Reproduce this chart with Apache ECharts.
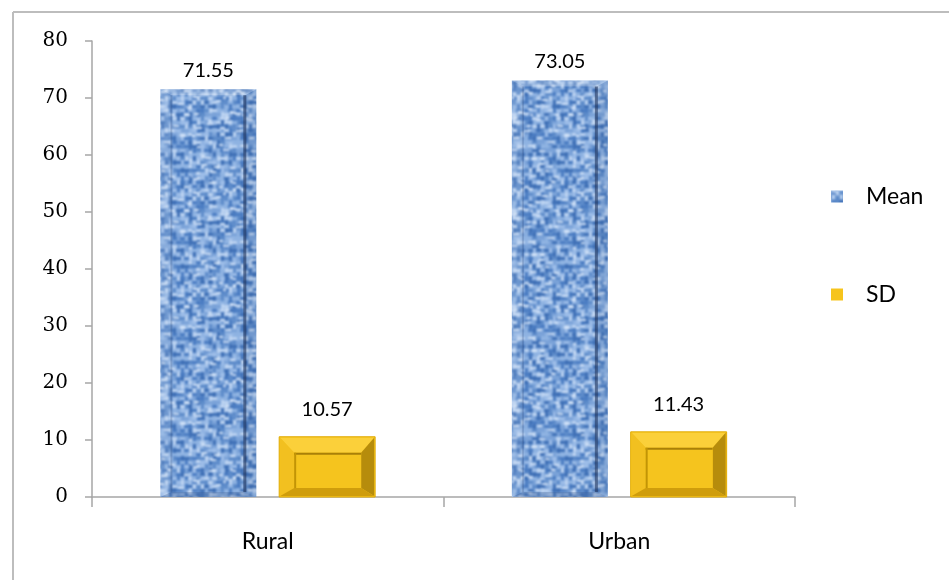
<!DOCTYPE html>
<html>
<head>
<meta charset="utf-8">
<title>Mean and SD by locality</title>
<script src="https://cdn.jsdelivr.net/npm/echarts@6/dist/echarts.min.js"></script>
<style>
  html, body { margin: 0; padding: 0; background: #fff; }
  #chart { width: 949px; height: 580px; }
</style>
</head>
<body>
<div id="chart"></div>
<script>
// Category names and series values
const categories = ['Rural', 'Urban'];
const meanValues = [71.55, 73.05];
const sdValues = [10.57, 11.43];
const seriesNames = ['Mean', 'SD'];
const yTicks = { min: 0, max: 80, interval: 10 };

// Deterministic hash used to build the woven fabric texture
function hash(x, y) {
  let h = (x * 374761393 + y * 668265263) | 0;
  h = Math.imul(h ^ (h >>> 13), 1274126177);
  h = h ^ (h >>> 16);
  return (h >>> 0) / 4294967295;
}

// Blue woven-fabric texture for the Mean bars
function makeFabric() {
  const size = 96;
  const raw = document.createElement('canvas');
  raw.width = size; raw.height = size;
  const g = raw.getContext('2d');
  g.fillStyle = '#7fa6da';
  g.fillRect(0, 0, size, size);
  const shades = ['#4a7cc2', '#5e8cca', '#7aa2d8', '#9dbde8', '#bcd3f1', '#3f70b6', '#8fb3e2'];
  for (let y = 0; y < size; y += 4) {
    for (let x = 0; x < size; x += 4) {
      const r = hash(x + 3, y + 5);
      const horiz = ((x >> 2) + (y >> 2)) % 2 === 0;
      g.fillStyle = shades[Math.floor(r * shades.length)];
      if (horiz) g.fillRect(x, y + 1, 5, 3); else g.fillRect(x + 1, y, 3, 5);
    }
  }
  // light flecks
  for (let i = 0; i < 70; i++) {
    const px = Math.floor(hash(i, 7) * size), py = Math.floor(hash(11, i) * size);
    g.fillStyle = 'rgba(225,236,252,0.85)';
    g.fillRect(px, py, 3 + Math.floor(hash(i, 3) * 4), 2);
  }
  // soften the weave, tiling 3x3 first so the blur wraps seamlessly
  const tile = document.createElement('canvas');
  tile.width = size * 3; tile.height = size * 3;
  const gt = tile.getContext('2d');
  for (let i = 0; i < 3; i++) for (let j = 0; j < 3; j++) gt.drawImage(raw, i * size, j * size);
  const soft = document.createElement('canvas');
  soft.width = size; soft.height = size;
  const g3 = soft.getContext('2d');
  g3.filter = 'blur(0.9px)';
  g3.drawImage(tile, -size, -size);
  return soft;
}
const fabric = makeFabric();
const fabricFill = { image: fabric, repeat: 'repeat' };
const goldFill = '#f6c41c';

// Bar geometry as fractions of the category band
const BAR_RATIO = 0.273;
const GAP_RATIO = 0.065;

function barRect(api, seriesIndex) {
  const cat = api.value(0);
  const val = api.value(1);
  const top = api.coord([cat, val]);
  const base = api.coord([cat, 0]);
  const band = api.size([1, 0])[0];
  const w = band * BAR_RATIO;
  const gap = band * GAP_RATIO;
  const cx = top[0] + (seriesIndex === 0 ? -(w + gap) / 2 : (w + gap) / 2);
  return { x: cx - w / 2, y: top[1], w: w, h: base[1] - top[1], cx: cx, val: val };
}

function poly(points, fill) {
  return { type: 'polygon', shape: { points: points }, style: { fill: fill }, silent: true };
}

function labelEl(r, dy) {
  return {
    type: 'text',
    style: {
      x: r.cx, y: r.y - dy,
      text: r.val.toFixed(2),
      align: 'center', verticalAlign: 'middle',
      font: '20px Lato', fill: '#000'
    }
  };
}

function renderMean(params, api) {
  const r = barRect(api, 0);
  const x0 = r.x, x1 = r.x + r.w, y0 = r.y, y1 = r.y + r.h;
  const ins = 11;
  return {
    type: 'group',
    children: [
      { type: 'rect', shape: { x: x0, y: y0, width: r.w, height: r.h }, style: { fill: fabricFill } },
      // light top and left bevel
      poly([[x0, y0], [x1, y0], [x1 - ins, y0 + 6], [x0 + ins, y0 + 6]], 'rgba(255,255,255,0.25)'),
      poly([[x0, y0], [x0 + ins, y0 + 6], [x0 + ins, y1 - 5], [x0, y1]], 'rgba(255,255,255,0.10)'),
      // shaded right and bottom bevel
      poly([[x1, y0], [x1, y1], [x1 - ins, y1 - 5], [x1 - ins, y0 + 6]], 'rgba(40,70,120,0.10)'),
      poly([[x0, y1], [x0 + ins, y1 - 5], [x1 - ins, y1 - 5], [x1, y1]], 'rgba(40,70,120,0.22)'),
      // inner edge lines
      { type: 'rect', shape: { x: x1 - ins - 2, y: y0 + 6, width: 3, height: r.h - 11 }, style: { fill: 'rgba(30,50,90,0.6)' }, silent: true },
      { type: 'rect', shape: { x: x0 + ins - 1, y: y0 + 6, width: 2, height: r.h - 11 }, style: { fill: 'rgba(40,70,120,0.22)' }, silent: true },
      labelEl(r, 19)
    ]
  };
}

function renderSD(params, api) {
  const r = barRect(api, 1);
  const x0 = r.x, x1 = r.x + r.w, y0 = r.y, y1 = r.y + r.h;
  const l = 15, rt = 14, t = Math.min(16, r.h * 0.27), b = Math.min(9, r.h * 0.15);
  return {
    type: 'group',
    children: [
      { type: 'rect', shape: { x: x0, y: y0, width: r.w, height: r.h }, style: { fill: goldFill, stroke: '#e0ab06', lineWidth: 1 } },
      poly([[x0 + 1, y0 + 1], [x1 - 1, y0 + 1], [x1 - rt, y0 + t], [x0 + l, y0 + t]], '#fbd03a'),
      poly([[x0 + 1, y0 + 1], [x0 + l, y0 + t], [x0 + l, y1 - b], [x0 + 1, y1 - 1]], '#f2c020'),
      poly([[x1 - 1, y0 + 1], [x1 - 1, y1 - 1], [x1 - rt, y1 - b], [x1 - rt, y0 + t]], '#b68c0c'),
      poly([[x0 + 1, y1 - 1], [x0 + l, y1 - b], [x1 - rt, y1 - b], [x1 - 1, y1 - 1]], '#cf9d0c'),
      { type: 'rect', shape: { x: x0 + l, y: y0 + t, width: r.w - l - rt, height: r.h - t - b }, style: { fill: '#f5c41e' }, silent: true },
      // dark rim along the face
      { type: 'rect', shape: { x: x0 + l, y: y0 + t, width: r.w - l - rt, height: 2 }, style: { fill: '#a98008' }, silent: true },
      { type: 'rect', shape: { x: x0 + l, y: y0 + t, width: 2, height: r.h - t - b }, style: { fill: '#c29406' }, silent: true },
      labelEl(r, 27)
    ]
  };
}

const chart = echarts.init(document.getElementById('chart'), null, { renderer: 'canvas' });

const axisGray = '#a6a6a6';

chart.setOption({
  backgroundColor: '#ffffff',
  animation: false,
  grid: { left: 92, right: 154, top: 41, bottom: 83, containLabel: false },
  legend: {
    orient: 'vertical',
    left: 826,
    top: 180,
    itemWidth: 12,
    itemHeight: 12,
    itemGap: 75,
    icon: 'rect',
    textStyle: { fontFamily: 'Lato', fontSize: 23, color: '#000', padding: [0, 0, 0, 18] },
    data: [
      { name: seriesNames[0], itemStyle: { color: fabricFill } },
      { name: seriesNames[1], itemStyle: { color: goldFill } }
    ]
  },
  xAxis: {
    type: 'category',
    data: categories,
    axisLine: { lineStyle: { color: axisGray, width: 1.5 } },
    axisTick: { show: true, length: 10, alignWithLabel: false, lineStyle: { color: axisGray, width: 1.5 } },
    axisLabel: { fontFamily: 'Lato', fontSize: 23, color: '#000', margin: 33 },
    splitLine: { show: false }
  },
  yAxis: {
    type: 'value',
    min: yTicks.min,
    max: yTicks.max,
    interval: yTicks.interval,
    axisLine: { show: true, lineStyle: { color: axisGray, width: 1.5 } },
    axisTick: { show: true, length: 7, lineStyle: { color: axisGray, width: 1.5 } },
    axisLabel: { fontFamily: 'DejaVu Serif', fontSize: 20, color: '#000', margin: 24 },
    splitLine: { show: false }
  },
  series: [
    {
      name: seriesNames[0],
      type: 'custom',
      itemStyle: { color: fabricFill },
      encode: { x: 0, y: 1 },
      data: categories.map((c, i) => [i, meanValues[i]]),
      renderItem: renderMean
    },
    {
      name: seriesNames[1],
      type: 'custom',
      itemStyle: { color: goldFill },
      encode: { x: 0, y: 1 },
      data: categories.map((c, i) => [i, sdValues[i]]),
      renderItem: renderSD
    }
  ],
  graphic: [
    { type: 'line', shape: { x1: 13, y1: 12, x2: 949, y2: 12 }, style: { stroke: '#bdbdbd', lineWidth: 2 }, silent: true },
    { type: 'line', shape: { x1: 13, y1: 12, x2: 13, y2: 580 }, style: { stroke: '#bdbdbd', lineWidth: 2 }, silent: true }
  ]
});
</script>
</body>
</html>
